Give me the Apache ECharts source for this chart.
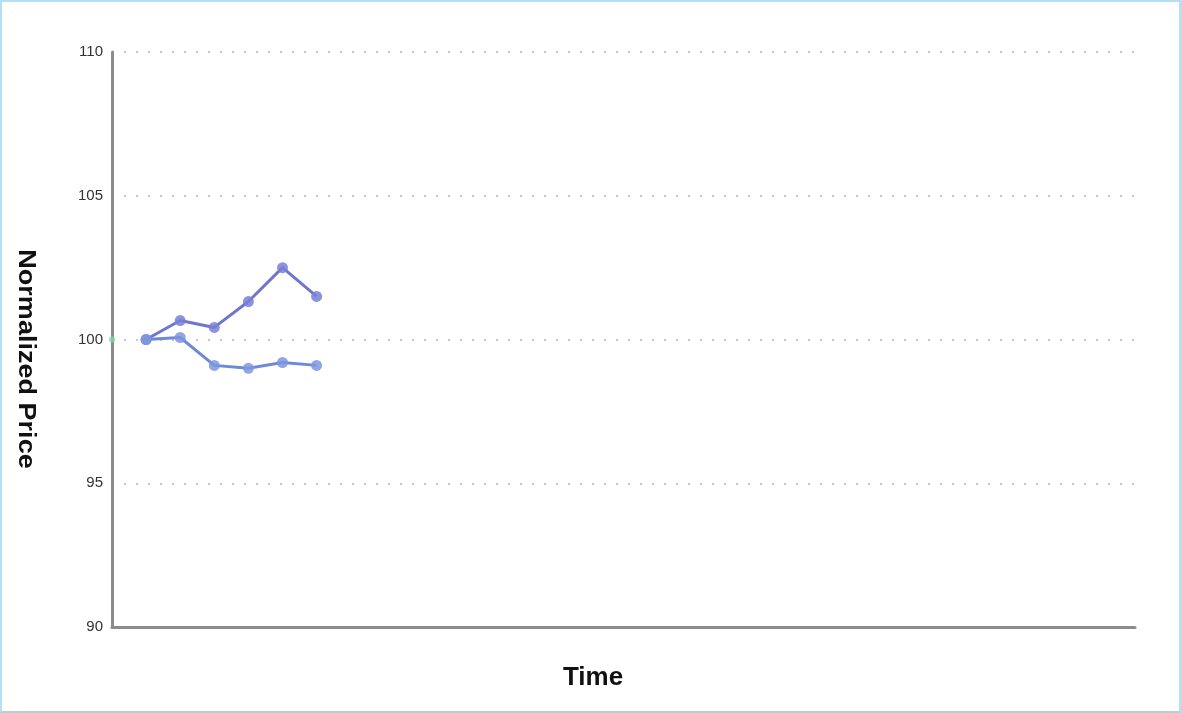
<!DOCTYPE html>
<html>
<head>
<meta charset="utf-8">
<script src="https://cdn.jsdelivr.net/npm/echarts@6/dist/echarts.min.js"></script>
<style>
html,body{margin:0;padding:0;background:#fff;}
#frame{width:1181px;height:713px;box-sizing:border-box;border:2px solid #b5dff5;border-bottom-color:#c8c8c8;}
#chart{width:1177px;height:709px;}
</style>
</head>
<body>
<div id="frame"><div id="chart"></div></div>
<script>
var timeSteps = [1, 2, 3, 4, 5, 6];
var seriesA = [100, 100.66, 100.42, 101.32, 102.5, 101.5];
var seriesB = [100, 100.07, 99.1, 99.0, 99.2, 99.1];
var yTicks = [90, 95, 100, 105, 110];
var originPoint = [0, 100];
var xTitle = 'Time';
var yTitle = 'Normalized Price';

function pairs(xs, ys){ return xs.map(function(x,i){ return [x, ys[i]]; }); }

var chart = echarts.init(document.getElementById('chart'));
chart.setOption({
  animation:false,
  grid:{left:110, right:44, top:50, bottom:84},
  graphic:[
    {type:'text', x:591, y:676, style:{text:xTitle, fontFamily:'Liberation Sans', fontWeight:'bold', fontSize:26, fill:'#111', align:'center', verticalAlign:'middle'}},
    {type:'text', x:23, y:357, rotation:-Math.PI/2, scaleX:1.04, scaleY:0.9, style:{text:yTitle, fontFamily:'Liberation Sans', fontWeight:'bold', fontSize:26, fill:'#111', align:'center', verticalAlign:'middle'}}
  ],
  xAxis:{
    type:'value', min:0, max:30,
    axisLine:{show:true, lineStyle:{color:'#8c8c8c', width:3}},
    axisTick:{show:false}, axisLabel:{show:false}, splitLine:{show:false}
  },
  yAxis:{
    type:'value', min:yTicks[0], max:yTicks[yTicks.length-1], interval:5,
    axisLine:{show:true, lineStyle:{color:'#8c8c8c', width:3}},
    axisTick:{show:false},
    axisLabel:{fontFamily:'Liberation Sans', fontSize:15, color:'#333', margin:9},
    splitLine:{show:true, lineStyle:{color:'#c8c8c8', type:[2,10], width:2}}
  },
  series:[
    {type:'line', data:pairs(timeSteps, seriesA), symbol:'circle', symbolSize:11,
     lineStyle:{color:'#6f76cf', width:3}, itemStyle:{color:'rgba(120,128,216,0.85)'}},
    {type:'line', data:pairs(timeSteps, seriesB), symbol:'circle', symbolSize:11,
     lineStyle:{color:'#6e8ad6', width:3}, itemStyle:{color:'rgba(125,150,225,0.85)'}},
    {type:'scatter', data:[originPoint], symbolSize:6, itemStyle:{color:'#7fd8a8'}, z:1}
  ]
});
</script>
</body>
</html>
